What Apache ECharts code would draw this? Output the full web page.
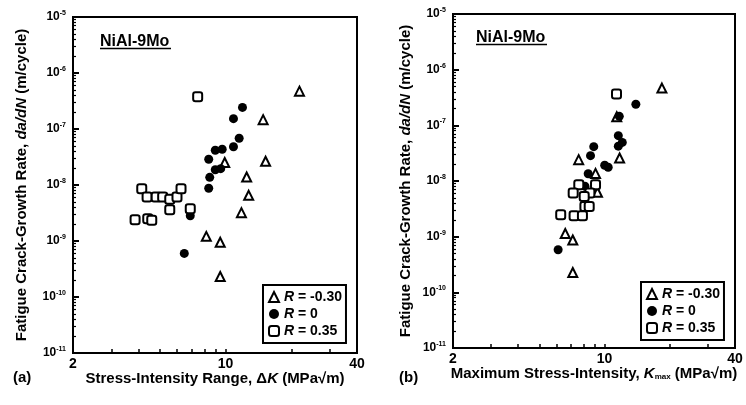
<!DOCTYPE html>
<html>
<head>
<meta charset="utf-8">
<script src="https://cdn.jsdelivr.net/npm/echarts@6/dist/echarts.min.js"></script>
<style>
html,body{margin:0;padding:0;background:#fff;}
#c{width:746px;height:405px;}
</style>
</head>
<body>
<div id="c"></div>
<script>
// ---- Data: panel (a) stress-intensity range ΔK (MPa√m) vs da/dN (m/cycle)
const triA_x = [8.16, 9.45, 9.45, 9.91, 11.82, 12.49, 12.76, 14.86, 15.25, 21.8];
const triA_y = [1.21e-9, 9.5e-10, 2.33e-10, 2.52e-8, 3.21e-9, 1.39e-8, 6.54e-9, 1.47e-7, 2.65e-8, 4.74e-7];
const circA_x = [6.47, 6.89, 8.37, 8.46, 8.37, 8.97, 9.50, 8.97, 9.65, 10.87, 11.54, 10.87, 11.95];
const circA_y = [6.0e-10, 2.81e-9, 8.73e-9, 1.37e-8, 2.88e-8, 1.87e-8, 1.96e-8, 4.18e-8, 4.35e-8, 4.82e-8, 6.85e-8, 1.53e-7, 2.43e-7];
const sqA_x = [3.85, 4.13, 4.37, 4.40, 4.59, 4.81, 5.15, 5.55, 5.55, 5.99, 6.25, 6.89, 7.45];
const sqA_y = [2.40e-9, 8.6e-9, 6.1e-9, 2.5e-9, 2.34e-9, 6.1e-9, 6.1e-9, 5.55e-9, 3.63e-9, 6.1e-9, 8.6e-9, 3.78e-9, 3.75e-7];

// ---- Data: panel (b) maximum stress-intensity Kmax (MPa√m) vs da/dN (m/cycle)
const triB_x = [18.4, 7.60, 11.74, 9.09, 9.28, 6.59, 7.14, 7.14, 11.39];
const triB_y = [4.67e-7, 2.42e-8, 2.59e-8, 1.37e-8, 6.29e-9, 1.14e-9, 8.69e-10, 2.27e-10, 1.43e-7];
const circB_x = [6.11, 8.12, 8.41, 8.62, 8.92, 10.02, 10.40, 11.58, 12.08, 11.58, 11.70, 13.95];
const circB_y = [5.81e-10, 8.06e-9, 1.35e-8, 2.85e-8, 4.14e-8, 1.92e-8, 1.77e-8, 4.23e-8, 4.94e-8, 6.53e-8, 1.45e-7, 2.39e-7];
const sqB_x = [11.36, 7.61, 9.09, 7.17, 8.56, 8.06, 8.12, 8.50, 6.28, 7.24, 7.91];
const sqB_y = [3.67e-7, 8.58e-9, 8.58e-9, 6.08e-9, 6.08e-9, 5.28e-9, 3.49e-9, 3.49e-9, 2.48e-9, 2.38e-9, 2.38e-9];

// ---- Axis definitions
const seriesNames = ['R = -0.30', 'R = 0', 'R = 0.35'];
const xMin = 2, xMax = 40;
const xLabelValues = [2, 10, 40];
const xTickValues = [3, 4, 5, 6, 7, 8, 9, 10, 20, 30];
const yMin = 1e-11, yMax = 1e-5;
const yMinorTicks = [];
for (let k = -11; k < -5; k++) for (let m = 2; m <= 9; m++) yMinorTicks.push(+(m * Math.pow(10, k)).toPrecision(3));

const FONT = 'Liberation Sans, Arial, sans-serif';
const zip = (xs, ys) => xs.map((x, i) => [x, ys[i]]);

const grids = [
  {left: 73, top: 17, width: 284, height: 336},
  {left: 453, top: 14, width: 282, height: 334}
];

function xAxesFor(gi, name) {
  return [{
    gridIndex: gi, type: 'log', logBase: 10, min: xMin, max: xMax,
    name: name, nameLocation: 'middle', nameGap: 18, nameMoveOverlap: false,
    nameTextStyle: {fontFamily: FONT, fontWeight: 'bold', fontSize: 15, color: '#000',
      rich: {i: {fontFamily: FONT, fontWeight: 'bold', fontStyle: 'italic', fontSize: 15, color: '#000'},
             sub: {fontFamily: FONT, fontWeight: 'bold', fontSize: 8, color: '#000', verticalAlign: 'bottom', padding: [7, 0, 0, 0]}}},
    axisLine: {show: true, lineStyle: {color: '#000', width: 2}},
    axisTick: {show: true, inside: true, length: 4, customValues: xTickValues, lineStyle: {color: '#000', width: 1.5}},
    axisLabel: {customValues: xLabelValues, margin: 4, fontFamily: FONT, fontWeight: 'bold', fontSize: 14, color: '#000',
      formatter: v => String(Math.round(v))},
    splitLine: {show: false}, minorTick: {show: false}
  }];
}

function yAxesFor(gi, gap) {
  return [{
    gridIndex: gi, type: 'log', logBase: 10, min: yMin, max: yMax, interval: 1, position: 'left',
    name: 'Fatigue Crack-Growth Rate, {i|da/dN} (m/cycle)', nameLocation: 'middle', nameGap: gap, nameRotate: 90,
    nameTextStyle: {fontFamily: FONT, fontWeight: 'bold', fontSize: 15, color: '#000',
      rich: {i: {fontFamily: FONT, fontWeight: 'bold', fontStyle: 'italic', fontSize: 15, color: '#000'}}},
    axisLine: {show: true, lineStyle: {color: '#000', width: 2}},
    axisTick: {show: true, inside: true, length: 6, lineStyle: {color: '#000', width: 2}},
    axisLabel: {margin: 7, color: '#000',
      formatter: v => '{b|10}{s|' + Math.round(Math.log10(v)) + '}',
      rich: {b: {fontFamily: FONT, fontWeight: 'bold', fontSize: 12, color: '#000', lineHeight: 15},
             s: {fontFamily: FONT, fontWeight: 'bold', fontSize: 7, color: '#000', verticalAlign: 'top', lineHeight: 15}}},
    splitLine: {show: false}
  }, {
    gridIndex: gi, type: 'log', logBase: 10, min: yMin, max: yMax, position: 'left',
    axisLine: {show: false},
    axisTick: {show: true, inside: true, length: 3, customValues: yMinorTicks, lineStyle: {color: '#000', width: 1.2}},
    axisLabel: {show: false}, splitLine: {show: false}
  }];
}

const triStyle = {color: '#fff', borderColor: '#000', borderWidth: 2, opacity: 1};
const circStyle = {color: '#000', borderColor: '#000', borderWidth: 0, opacity: 1};
const sqStyle = {color: '#fff', borderColor: '#000', borderWidth: 2, opacity: 1};

function seriesFor(gi, tri, circ, sq) {
  const xi = gi, yi = gi * 2;
  return [
    {name: seriesNames[0], type: 'scatter', xAxisIndex: xi, yAxisIndex: yi, data: tri,
     symbol: 'triangle', symbolSize: 9, itemStyle: triStyle, z: 2},
    {name: seriesNames[1], type: 'scatter', xAxisIndex: xi, yAxisIndex: yi, data: circ,
     symbol: 'circle', symbolSize: 9, itemStyle: circStyle, z: 3},
    {name: seriesNames[2], type: 'scatter', xAxisIndex: xi, yAxisIndex: yi, data: sq,
     symbol: 'roundRect', symbolSize: 9, itemStyle: sqStyle, z: 4}
  ];
}

function legendFor(left, top) {
  return {
    data: seriesNames, orient: 'vertical', left: left, top: top,
    backgroundColor: '#fff', borderColor: '#000', borderWidth: 2, borderRadius: 0,
    padding: [5, 4, 5, 5], itemGap: 3, itemWidth: 10, itemHeight: 10,
    selectedMode: false,
    formatter: n => '{i|R}' + n.slice(1),
    textStyle: {fontFamily: FONT, fontWeight: 'bold', fontSize: 14, color: '#000',
      rich: {i: {fontFamily: FONT, fontWeight: 'bold', fontStyle: 'italic', fontSize: 14, color: '#000'}}}
  };
}

const txt = (x, y, text, size) => ({type: 'text', left: x, top: y,
  style: {text: text, fill: '#000', font: 'bold ' + size + 'px ' + FONT}});
const uline = (x1, x2, y) => ({type: 'line', shape: {x1: x1, y1: y, x2: x2, y2: y}, style: {stroke: '#000', lineWidth: 1.5}});

const option = {
  backgroundColor: '#fff',
  animation: false,
  grid: grids.map(g => Object.assign({show: true, borderColor: '#000', borderWidth: 2, backgroundColor: 'transparent'}, g)),
  xAxis: [].concat(
    xAxesFor(0, 'Stress-Intensity Range, Δ{i|K} (MPa√m)'),
    xAxesFor(1, 'Maximum Stress-Intensity, {i|K}{sub|max} (MPa√m)')
  ),
  yAxis: [].concat(yAxesFor(0, 44), yAxesFor(1, 40)),
  legend: [legendFor(263, 285), legendFor(641, 282)],
  series: [].concat(
    seriesFor(0, zip(triA_x, triA_y), zip(circA_x, circA_y), zip(sqA_x, sqA_y)),
    seriesFor(1, zip(triB_x, triB_y), zip(circB_x, circB_y), zip(sqB_x, sqB_y))
  ),
  graphic: [
    txt(100, 34, 'NiAl-9Mo', 16), uline(100, 171, 48.5),
    txt(476, 30, 'NiAl-9Mo', 16), uline(476, 547, 44.5),
    txt(13, 370, '(a)', 15), txt(399, 370, '(b)', 15)
  ]
};

const chart = echarts.init(document.getElementById('c'), null, {renderer: 'canvas'});
chart.setOption(option);
</script>
</body>
</html>
